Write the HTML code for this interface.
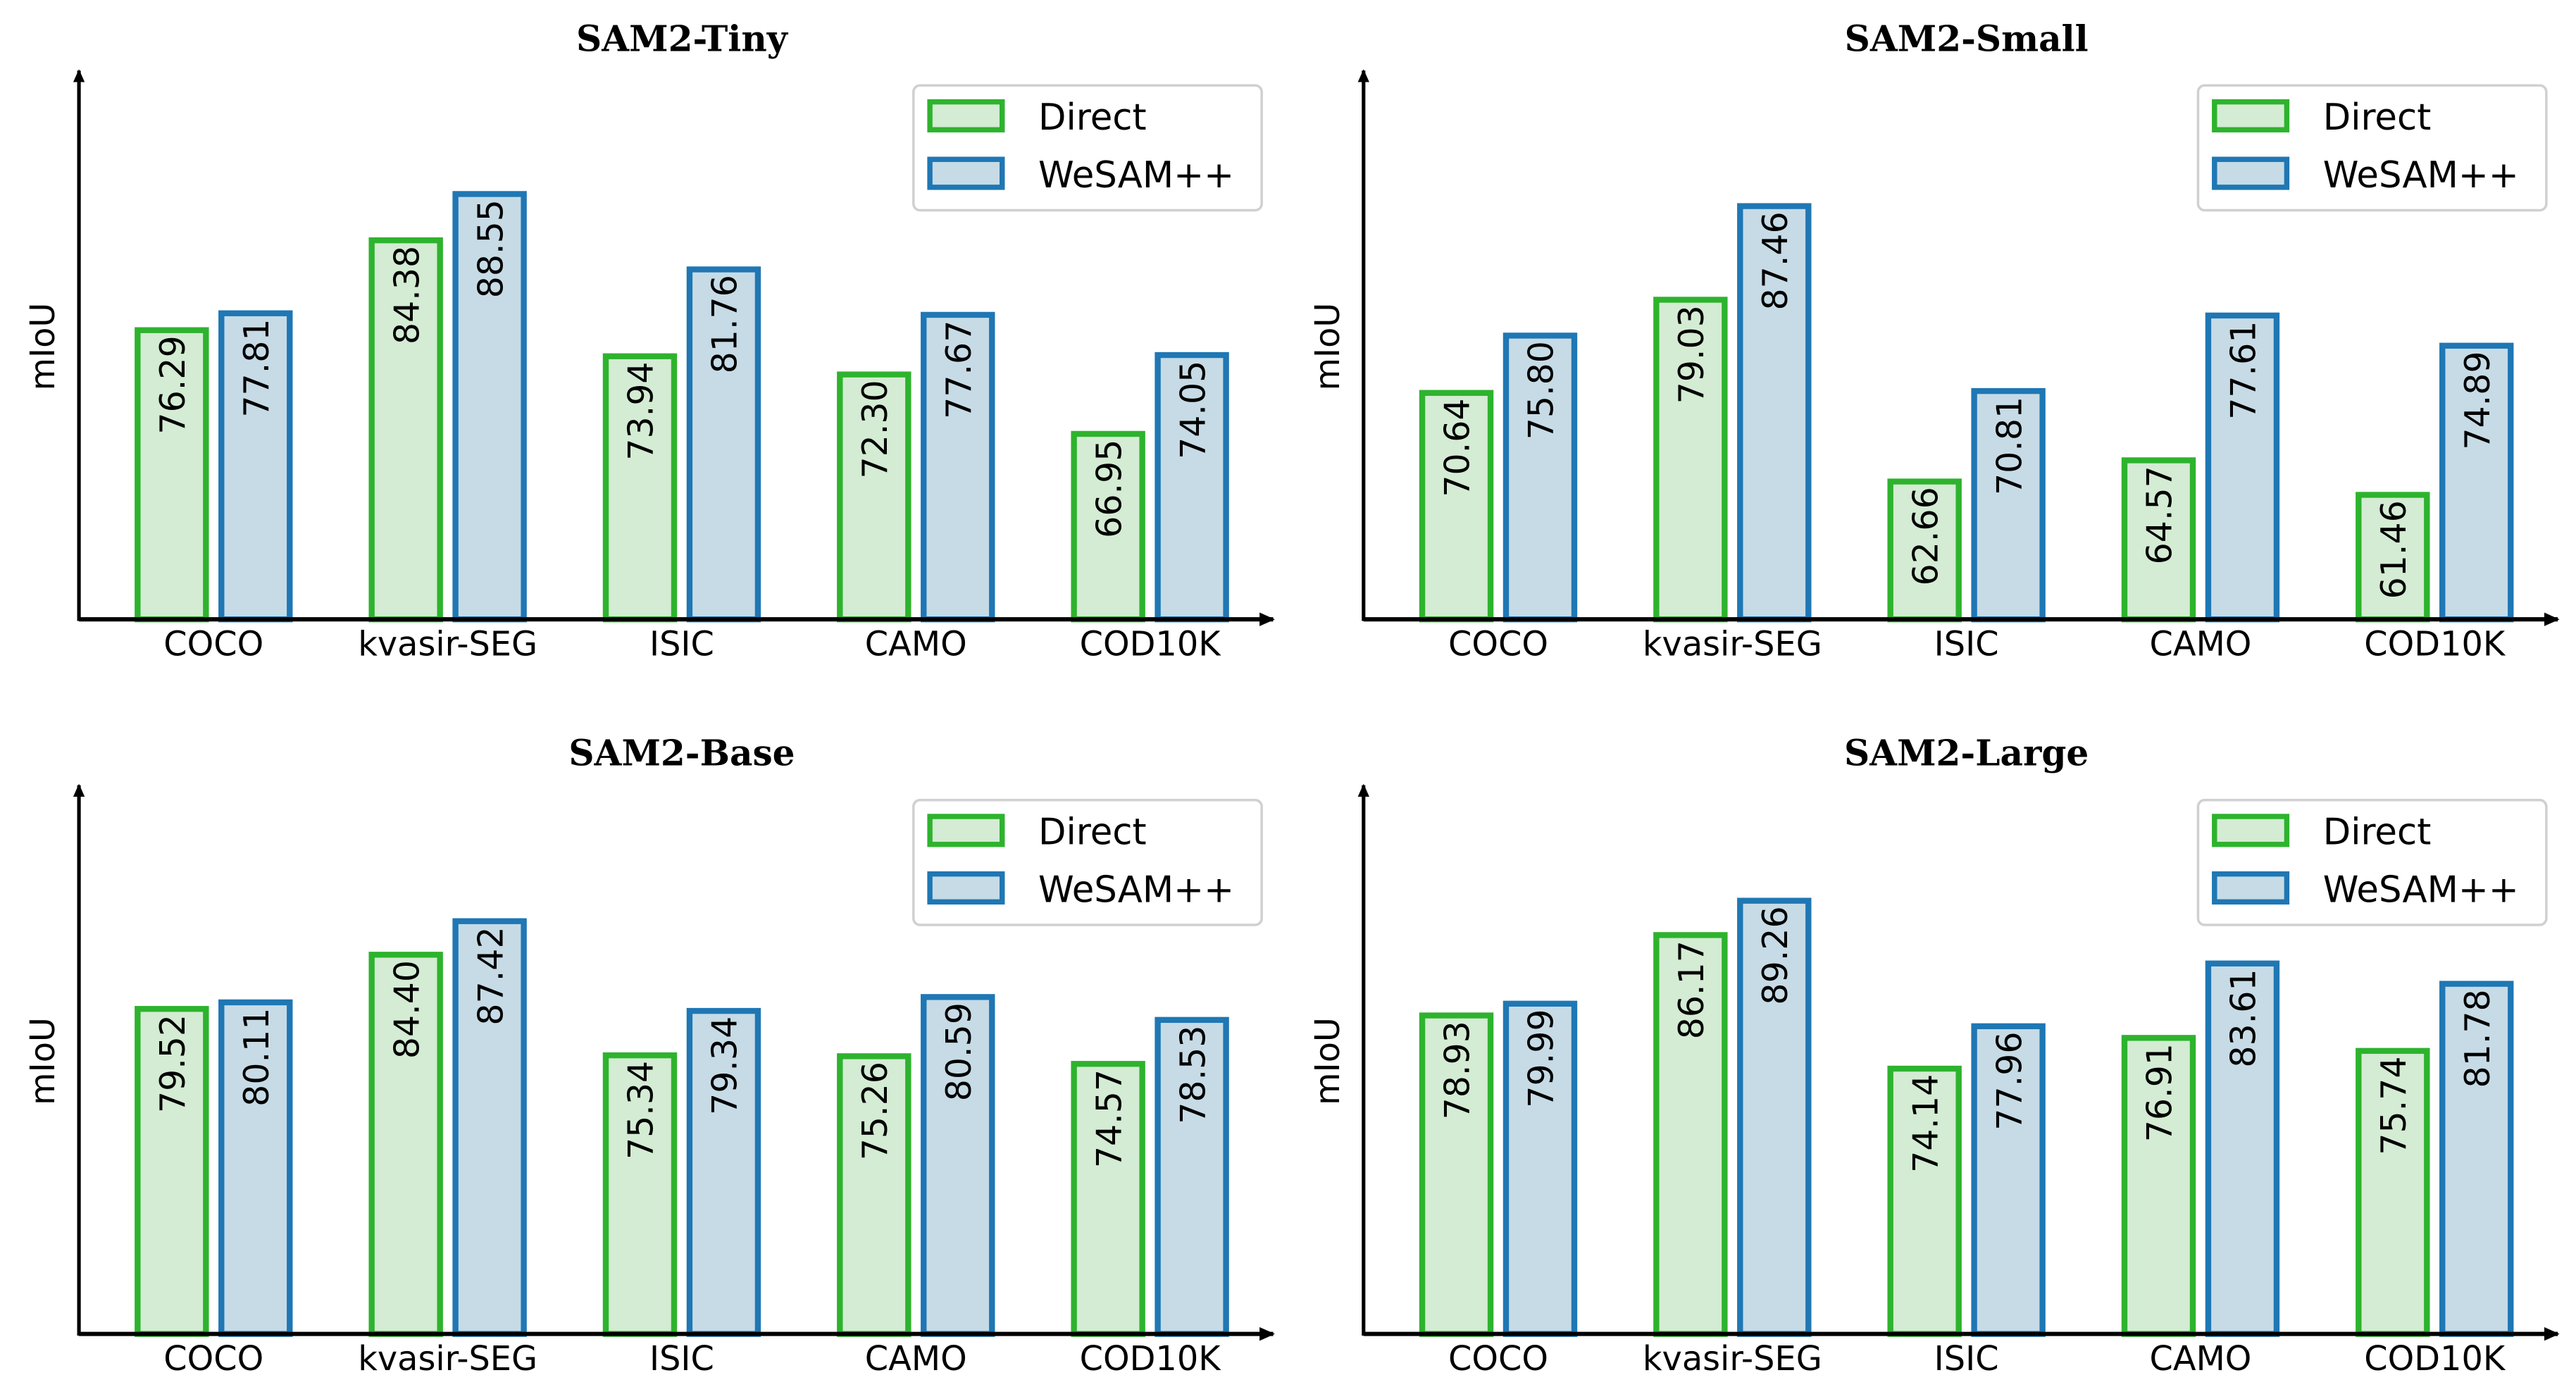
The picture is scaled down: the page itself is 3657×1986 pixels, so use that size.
<!DOCTYPE html>
<html><head><meta charset="utf-8"><style>html,body{margin:0;padding:0;background:#fff}svg{display:block}</style></head>
<body>
<svg id="chart" width="3657" height="1986" viewBox="0 0 1568 851.6" xmlns="http://www.w3.org/2000/svg">
<defs><marker id="arr" viewBox="0 0 10 10" refX="8" refY="5" markerWidth="4" markerHeight="4" orient="auto"><path d="M0,1 L9,5 L0,9 z" fill="#000"/></marker></defs>
</svg>
<script>
const categories = ["COCO","kvasir-SEG","ISIC","CAMO","COD10K"];
const panelTitles = ["SAM2-Tiny","SAM2-Small","SAM2-Base","SAM2-Large"];
const directValues = [
  [76.29,84.38,73.94,72.30,66.95],
  [70.64,79.03,62.66,64.57,61.46],
  [79.52,84.40,75.34,75.26,74.57],
  [78.93,86.17,74.14,76.91,75.74]
];
const wesamValues = [
  [77.81,88.55,81.76,77.67,74.05],
  [75.80,87.46,70.81,77.61,74.89],
  [80.11,87.42,79.34,80.59,78.53],
  [79.99,89.26,77.96,83.61,81.78]
];
const yMin = 50, yMax = 100;
const NS = "http://www.w3.org/2000/svg";
const svg = document.getElementById("chart");
function mk(tag, attrs, parent){const e=document.createElementNS(NS,tag);for(const k in attrs)e.setAttribute(k,attrs[k]);parent.appendChild(e);return e;}
const font='"DejaVu Sans", "Liberation Sans", sans-serif';
for(let p=0;p<4;p++){
  const ox=(p%2)*782, oy=Math.floor(p/2)*435;
  const g=mk("g",{transform:`translate(${ox},${oy})`},svg);
  
  
  const x0=48, baseY=377, axTop=39, pxPerUnit=(baseY-axTop)/(yMax-yMin);
  const yS=v=>baseY-(v-yMin)*pxPerUnit;
  const xC=i=>130+i*142.5;
  const t=mk("text",{x:415,y:31,"text-anchor":"middle","font-family":'"DejaVu Serif", "Liberation Serif", serif',"font-weight":"bold","font-size":21.5},g);
  t.textContent=panelTitles[p];
  
  
  const yl=mk("text",{x:0,y:0,transform:`translate(33,211) rotate(-90)`,"text-anchor":"middle","font-family":font,"font-size":20.5},g);
  yl.textContent="mIoU";
  
  
  const bw=45, gap=6;
  for(let i=0;i<categories.length;i++){
    const series=[[directValues[p][i],"#2eb32e","#d3ecd3","bar-direct"],[wesamValues[p][i],"#1f77b4","#c6dbe6","bar-wesam"]];
    series.forEach((s,j)=>{
      const bx=xC(i)-gap/2-bw+j*(bw+gap)+bw/2;
      const top=yS(s[0]);
      const r=mk("rect",{x:bx-bw/2+1.7,y:top+1.7,width:bw-3.4,height:baseY-top-1.7,fill:s[2],stroke:s[1],"stroke-width":3.6},g);
      
      
      const lt=mk("text",{x:0,y:0,transform:`translate(${bx+7.8},${top+5}) rotate(-90)`,"text-anchor":"end","font-family":font,"font-size":21},g);
      lt.textContent=s[0].toFixed(2);
      
      
    });
    const tl=mk("text",{x:xC(i),y:399,"text-anchor":"middle","font-family":font,"font-size":20.5},g);
    tl.textContent=categories[i];
    
    
  }
  const ya=mk("line",{x1:x0,y1:baseY+1,x2:x0,y2:43,stroke:"#000","stroke-width":2.2,"marker-end":"url(#arr)"},g);
  
  
  const xa=mk("line",{x1:x0,y1:baseY,x2:775,y2:baseY,stroke:"#000","stroke-width":2.6,"marker-end":"url(#arr)"},g);
  
  
  const lg=mk("g",{},g);
  
  
  mk("rect",{x:556,y:52,width:212,height:76,rx:4,fill:"#fff",stroke:"#d0d0d0","stroke-width":1.5},lg);
  [["Direct","#2eb32e","#d3ecd3",62],["WeSAM++","#1f77b4","#c6dbe6",97]].forEach(e=>{
    const r=mk("rect",{x:566,y:e[3],width:44,height:17,fill:e[2],stroke:e[1],"stroke-width":3.2},lg);
    
    
    const tx=mk("text",{x:632,y:e[3]+17,"font-family":font,"font-size":22},lg);
    tx.textContent=e[0];
    
    
  });
}
</script>
</body></html>
